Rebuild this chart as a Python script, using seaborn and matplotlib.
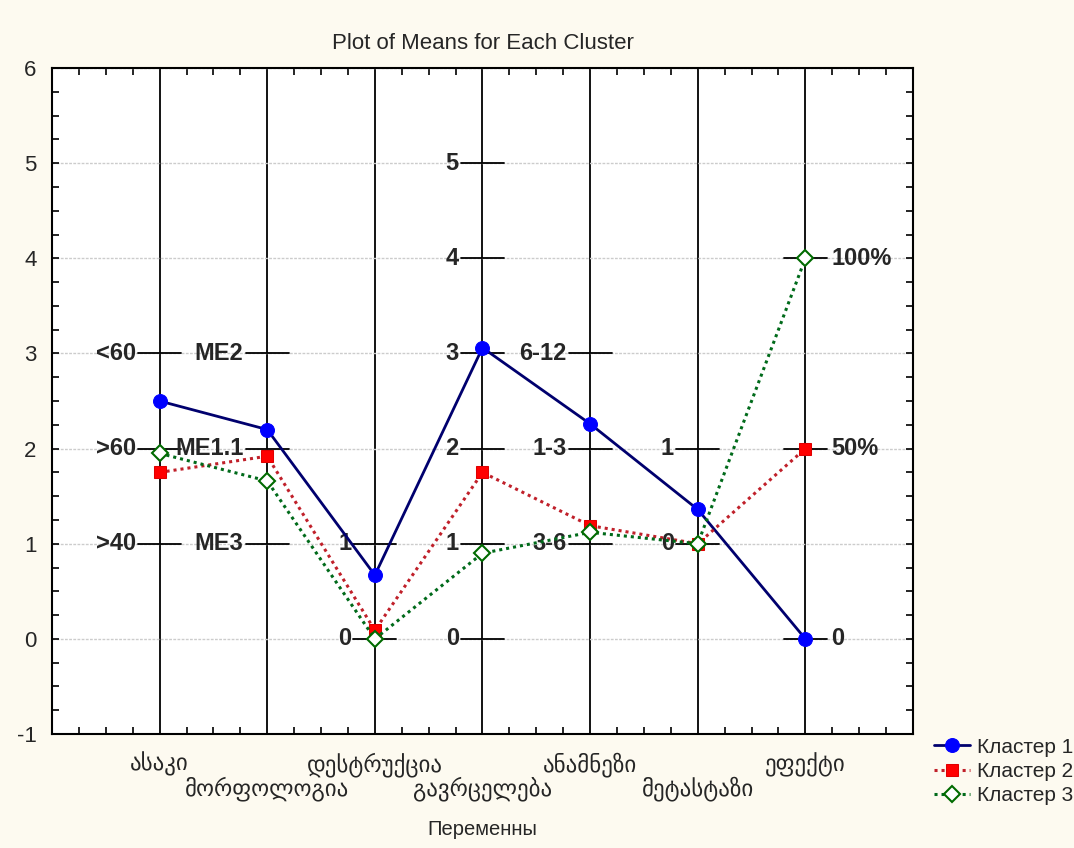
import numpy as np
import pandas as pd
import matplotlib
matplotlib.use("Agg")
import matplotlib.pyplot as plt
from matplotlib.ticker import MultipleLocator
from matplotlib.transforms import ScaledTranslation
import seaborn as sns

# ---------------- data ----------------
categories = ["ასაკი", "მორფოლოგია", "დესტრუქცია", "გავრცელება",
              "ანამნეზი", "მეტასტაზი", "ეფექტი"]
cluster_names = ["Кластер 1", "Кластер 2", "Кластер 3"]
cluster1 = [2.50, 2.20, 0.67, 3.06, 2.26, 1.36, 0.00]
cluster2 = [1.75, 1.92, 0.09, 1.75, 1.19, 1.00, 2.00]
cluster3 = [1.95, 1.66, 0.00, 0.90, 1.12, 1.00, 4.00]

# secondary scale marks drawn on each variable line
scale_age_vals = [3, 2, 1]
scale_age_text = ["<60", ">60", ">40"]
scale_morph_vals = [3, 2, 1]
scale_morph_text = ["ME2", "ME1.1", "ME3"]
scale_destr_vals = [1, 0]
scale_destr_text = ["1", "0"]
scale_spread_vals = [5, 4, 3, 2, 1, 0]
scale_spread_text = ["5", "4", "3", "2", "1", "0"]
scale_anam_vals = [3, 2, 1]
scale_anam_text = ["6-12", "1-3", "3-6"]
scale_meta_vals = [2, 1]
scale_meta_text = ["1", "0"]
scale_eff_vals = [4, 2, 0]
scale_eff_text = ["100%", "50%", "0"]

title = "Plot of Means for Each Cluster"
xlabel = "Переменны"

# ---------------- style ----------------
sns.set_style("white")
plt.rcParams["font.family"] = ["Liberation Sans", "DejaVu Sans"]
plt.rcParams["axes.unicode_minus"] = False

fig = plt.figure(figsize=(10.74, 8.48), dpi=100)
fig.patch.set_facecolor("#fdfaf0")
ax = fig.add_axes([0.0484, 0.1344, 0.8017, 0.7854])
ax.set_facecolor("white")

series = [cluster1, cluster2, cluster3]
styles = [
    dict(color="#00006e", linestyle="-", linewidth=2.0, marker="o",
         markersize=10, markerfacecolor="#0000ff", markeredgecolor="#0000ff"),
    dict(color="#c0202a", linestyle=(0, (1, 1.3)), linewidth=2.2, marker="s",
         markersize=8.5, markerfacecolor="#ff0000", markeredgecolor="#e00000"),
    dict(color="#006a1a", linestyle=(0, (1, 1.3)), linewidth=2.2, marker="D",
         markersize=8, markerfacecolor="white", markeredgecolor="#006a00",
         markeredgewidth=1.5),
]

for name, vals, st in zip(cluster_names, series, styles):
    df = pd.DataFrame({"var": categories, "mean": vals})
    sns.lineplot(data=df, x="var", y="mean", ax=ax, label=name, sort=False,
                 zorder=5, **st)

# axes limits and ticks
ax.set_xlim(-1, len(categories))
ax.set_ylim(-1, 6)
ax.set_xticks(range(len(categories)))
ax.set_xticklabels(categories, fontsize=16.5, family=["DejaVu Sans"])
ax.set_yticks(range(-1, 7))
ax.xaxis.set_minor_locator(MultipleLocator(0.25))
ax.yaxis.set_minor_locator(MultipleLocator(0.25))
ax.tick_params(axis="both", which="both", direction="in", top=True, right=True,
               left=True, bottom=True, color="black", width=1.2)
ax.tick_params(axis="x", which="major", length=0, pad=13)
ax.tick_params(axis="y", which="major", length=5, labelsize=16, pad=11)
ax.tick_params(which="minor", length=5)

# second row for every other variable name (staggered labels)
shift = ScaledTranslation(0, -24 / 100, fig.dpi_scale_trans)
for i, lab in enumerate(ax.get_xticklabels()):
    if i % 2 == 1:
        lab.set_transform(lab.get_transform() + shift)

ax.grid(axis="x", color="black", linewidth=1.3, linestyle="-")
ax.grid(axis="y", color="#cccccc", linewidth=1.0, linestyle=(0, (2, 1)))
ax.set_axisbelow(True)
for s in ax.spines.values():
    s.set_color("black")
    s.set_linewidth(1.5)

ax.set_title(title, fontsize=16, pad=14)
ax.set_xlabel(xlabel, fontsize=14.5, labelpad=14)
ax.set_ylabel("")

# secondary scales
scales = [
    (scale_age_vals, scale_age_text, "left"),
    (scale_morph_vals, scale_morph_text, "left"),
    (scale_destr_vals, scale_destr_text, "left"),
    (scale_spread_vals, scale_spread_text, "left"),
    (scale_anam_vals, scale_anam_text, "left"),
    (scale_meta_vals, scale_meta_text, "left"),
    (scale_eff_vals, scale_eff_text, "right"),
]
half = 0.2
for i, (vals, texts, side) in enumerate(scales):
    for v, t in zip(vals, texts):
        ax.plot([i - half, i + half], [v, v], color="black", lw=1.3, zorder=3)
        if side == "left":
            ax.text(i - half - 0.02, v, t, ha="right", va="center",
                    fontsize=17, fontweight="bold", zorder=4)
        else:
            ax.text(i + half + 0.04, v, t, ha="left", va="center",
                    fontsize=17, fontweight="bold", zorder=4)

leg = ax.legend(loc="upper left", bbox_to_anchor=(0.862, 0.14),
                bbox_transform=fig.transFigure, frameon=False, fontsize=15,
                handlelength=1.7, handletextpad=0.35, labelspacing=0.25,
                borderaxespad=0)

fig.savefig("out.png", dpi=100, facecolor=fig.get_facecolor())
